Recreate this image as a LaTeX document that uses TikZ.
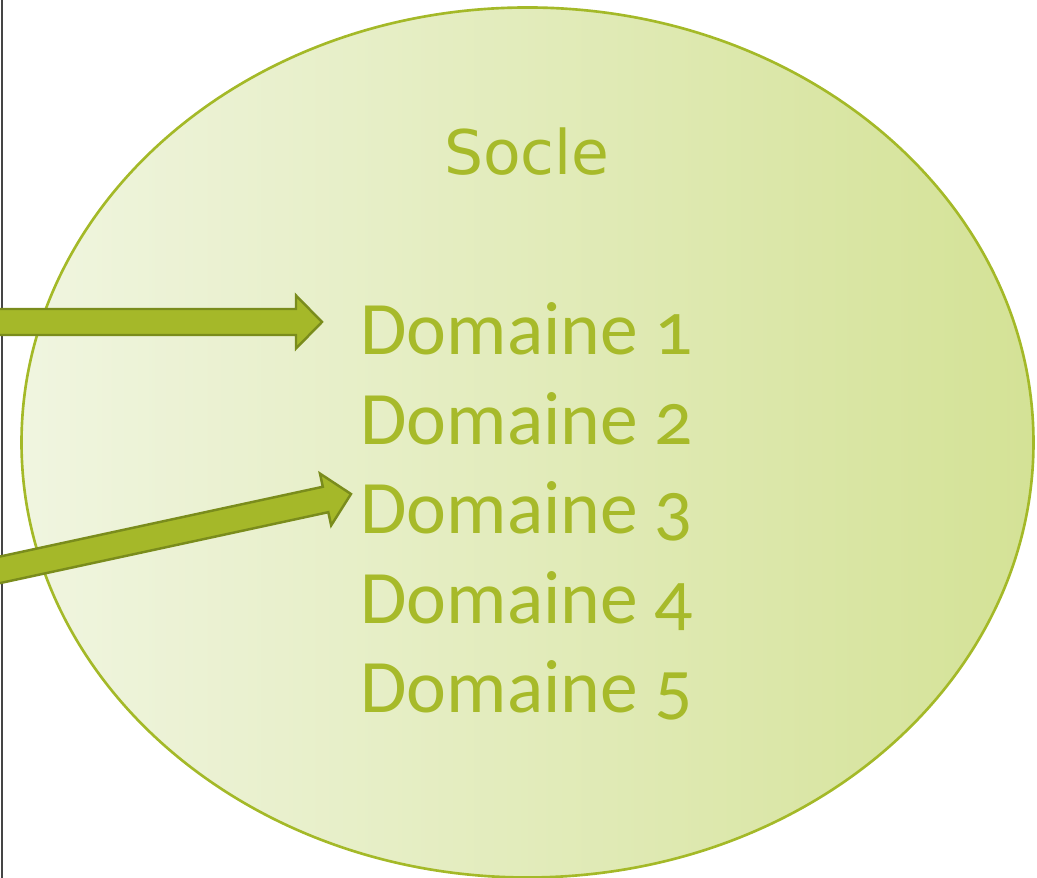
\documentclass[tikz,border=0pt]{standalone}
\usepackage{fontspec}
\usetikzlibrary{shapes.geometric, calc}
\newfontfamily\soclefont{DejaVu Sans}
\newfontfamily\domainefont[Numbers=OldStyle]{Carlito}
\definecolor{textGreen}{HTML}{A7BA2A}
\definecolor{edgeGreen}{HTML}{A4B928}
\definecolor{arrowFill}{HTML}{A5B829}
\definecolor{arrowEdge}{HTML}{7A8C1C}
\definecolor{shadeLeft}{HTML}{F0F5E0}
\definecolor{shadeRight}{HTML}{D4E296}
\definecolor{frameGray}{HTML}{454545}
\tikzstyle{socle} = [ellipse, minimum width=20.24cm, minimum height=17.4cm, inner sep=0pt, draw=edgeGreen, line width=1.5pt, left color=shadeLeft, right color=shadeRight]
\tikzstyle{title} = [anchor=base, inner sep=0pt, text=textGreen, font=\soclefont\fontsize{35}{42}\selectfont]
\tikzstyle{domaine} = [anchor=base west, inner sep=0pt, text=textGreen, font=\domainefont\fontsize{43}{52}\selectfont]
\tikzstyle{blockarrow} = [fill=arrowFill, draw=arrowEdge, line width=1.4pt, line join=miter]
\tikzstyle{frame} = [draw=frameGray, line width=1.6pt]
\newcommand{\drawblockarrow}[2]{%
  \draw[blockarrow] let \p1=($(#2)-(#1)$), \n1={atan2(\y1,\x1)}, \n2={veclen(\x1,\y1)} in
    [shift={(#1)}, rotate=\n1]
    (0pt,-0.26cm) -- ({\n2-0.52cm},-0.26cm) -- ({\n2-0.52cm},-0.53cm) -- (\n2,0pt)
    -- ({\n2-0.52cm},0.53cm) -- ({\n2-0.52cm},0.26cm) -- (0pt,0.26cm) -- cycle;}

\begin{document}
\begin{tikzpicture}
\useasboundingbox (0,0) rectangle (20.74,17.56);
\clip (0,0) rectangle (20.74,17.56);
% left frame line
\coordinate (frametop) at (0.04,17.56);
\coordinate (framebot) at (0.04,0);
\draw [frame] (frametop) -- (framebot);
% base ellipse and texts
\node (base) [socle] at (10.55,8.71) {};
\node (socle) [title] at (10.54,14.06) {Socle};
\node (d1) [domaine] at (7.2,10.46) {Domaine 1};
\node (d2) [domaine] at ([yshift=-1.79cm]d1.base west) {Domaine 2};
\node (d3) [domaine] at ([yshift=-1.79cm]d2.base west) {Domaine 3};
\node (d4) [domaine] at ([yshift=-1.79cm]d3.base west) {Domaine 4};
\node (d5) [domaine] at ([yshift=-1.79cm]d4.base west) {Domaine 5};
% arrows
\coordinate (src1) at (-0.2,11.12);
\coordinate (src2) at (-0.2,6.12);
\coordinate (tip1) at ([shift={(-0.76,0.66)}]d1.base west);
\coordinate (tip2) at ([shift={(-0.18,0.80)}]d3.base west);
\drawblockarrow{src1}{tip1}
\drawblockarrow{src2}{tip2}
\end{tikzpicture}
\end{document}
